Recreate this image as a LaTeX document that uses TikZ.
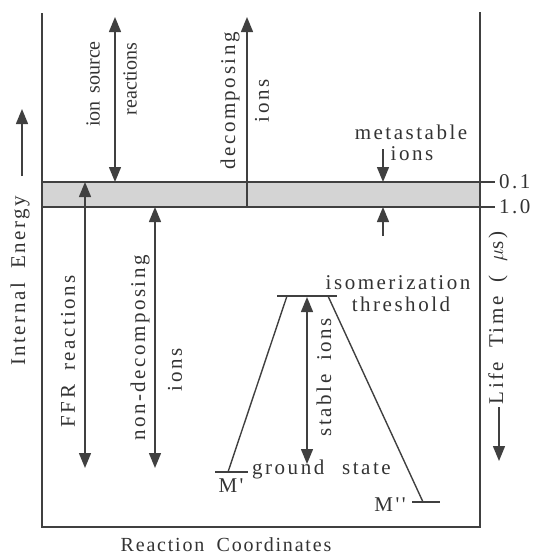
\documentclass[tikz,border=0pt]{standalone}
\usepackage{fontspec}
\setmainfont{Liberation Serif}
\newfontfamily\trk[LetterSpace=12,WordSpace=1.8]{Liberation Serif}
\newfontfamily\trks[WordSpace=1.6]{Liberation Serif}
\newfontfamily\trkr[LetterSpace=9,WordSpace=1.8]{Liberation Serif}
\usetikzlibrary{arrows.meta}
\begin{document}
\begin{tikzpicture}[x=1pt,y=-1pt,
  ln/.style={draw=black!75,line width=1.4pt},
  tip/.tip={Triangle[length=15pt,width=12pt]},
  arr/.style={ln,-tip},
  darr/.style={ln,tip-tip},
  lab/.style={font=\trk\fontsize{21}{23}\selectfont,text=black!80,inner sep=0pt},
  labs/.style={font=\trks\fontsize{20}{22}\selectfont,text=black!80,inner sep=0pt,rotate=90},
  vlab/.style={lab,rotate=90},
  lvl/.style={draw=black!75,line width=2.8pt}]
\useasboundingbox (0,0) rectangle (535,555);
% band
\fill[black!17] (42,182) rectangle (480,207);
% frame
\coordinate (ftl) at (42,13);
\coordinate (fbl) at (42,527);
\coordinate (fbr) at (480,527);
\coordinate (ftr) at (480,12);
\draw[ln] (ftl) -- (fbl) -- (fbr) -- (ftr);
\coordinate (b1l) at (42,182);
\coordinate (b1r) at (495,182);
\coordinate (b2l) at (42,207);
\coordinate (b2r) at (495,207);
\draw[ln] (b1l) -- (b1r);
\draw[ln] (b2l) -- (b2r);
\node[lab,anchor=west] (t01) at (499,182) {0.1};
\node[lab,anchor=west] (t10) at (499,207) {1.0};
% arrows top
\coordinate (is1) at (115,17);
\coordinate (is2) at (115,182);
\draw[darr] (is1) -- (is2);
\node[labs] (ionsrc) at (93,84) {ion source};
\node[labs] (react) at (130,79) {reactions};
\coordinate (dc1) at (247,207);
\coordinate (dc2) at (247,17);
\draw[arr] (dc1) -- (dc2);
\node[vlab] (decomp) at (230,101) {decomposing};
\node[vlab] (dions) at (262,101) {ions};
\node[lab] (meta) at (411,132) {metastable};
\node[lab] (mions) at (412,154) {ions};
\coordinate (ms1) at (383,149);
\coordinate (ms2) at (383,182);
\draw[arr] (ms1) -- (ms2);
\coordinate (ms3) at (383,236);
\coordinate (ms4) at (383,207);
\draw[arr] (ms3) -- (ms4);
% lower arrows
\coordinate (ff1) at (85,182);
\coordinate (ff2) at (85,468);
\draw[darr] (ff1) -- (ff2);
\node[vlab] (ffr) at (68,351) {FFR reactions};
\coordinate (nd1) at (155,207);
\coordinate (nd2) at (155,468);
\draw[darr] (nd1) -- (nd2);
\node[vlab] (nondec) at (140,348) {non-decomposing};
\node[vlab] (nions) at (175,370) {ions};
% potential well
\coordinate (thl) at (277,296);
\coordinate (thr) at (337,296);
\draw[lvl] (thl) -- (thr);
\coordinate (m1l) at (215,472);
\coordinate (m1r) at (248,472);
\draw[lvl] (m1l) -- (m1r);
\coordinate (m2l) at (412,502);
\coordinate (m2r) at (440,502);
\draw[lvl] (m2l) -- (m2r);
\coordinate (lg1) at (287,296);
\coordinate (lg2) at (228,472);
\draw[ln] (lg1) -- (lg2);
\coordinate (rg1) at (328,296);
\coordinate (rg2) at (423,502);
\draw[ln] (rg1) -- (rg2);
\node[lab] (iso) at (398,283) {isomerization};
\node[lab] (thrtxt) at (401,304) {threshold};
\coordinate (st1) at (307,297);
\coordinate (st2) at (307,464);
\draw[darr] (st1) -- (st2);
\node[vlab] (stable) at (324,377) {stable ions};
\node[lab,anchor=west] (ground) at (252,469) {ground};
\node[lab,anchor=west] (state) at (342,469) {state};
\node[lab] (mp) at (231,486) {M'};
\node[lab] (mpp) at (390,505) {M''};
% axes labels
\node[vlab] (ie) at (20,281) {Internal Energy};
\coordinate (ea1) at (22,176);
\coordinate (ea2) at (22,109);
\draw[arr] (ea1) -- (ea2);
\node[vlab] (lt) at (498,318) {Life Time ( $\mu$s)};
\coordinate (la1) at (499,407);
\coordinate (la2) at (499,461);
\draw[arr] (la1) -- (la2);
\node[font=\trkr\fontsize{20}{22}\selectfont,text=black!80,inner sep=0pt] (rc) at (226,545) {Reaction Coordinates};
\end{tikzpicture}
\end{document}
